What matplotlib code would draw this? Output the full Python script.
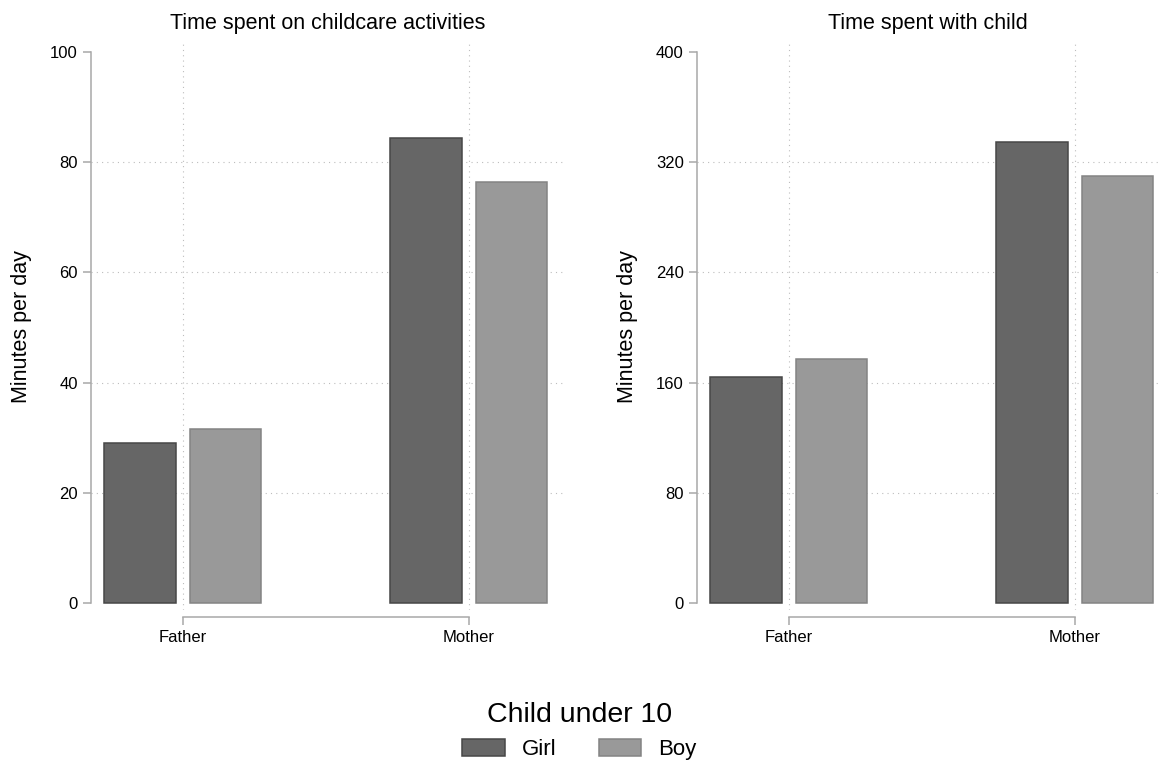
import matplotlib
matplotlib.use("Agg")
import matplotlib.pyplot as plt
from matplotlib.patches import Patch

plt.rcParams['font.family'] = ['Liberation Sans', 'DejaVu Sans']

# data
parents = ['Father', 'Mother']
groups = ['Girl', 'Boy']
childcare = {'Girl': [29.0, 84.4], 'Boy': [31.5, 76.4]}
with_child = {'Girl': [164.3, 334.9], 'Boy': [176.9, 310.2]}
childcare_ticks = [0, 20, 40, 60, 80, 100]
with_child_ticks = [0, 80, 160, 240, 320, 400]

fill = {'Girl': '#666666', 'Boy': '#999999'}
edge = {'Girl': '#474747', 'Boy': '#848484'}
offset = {'Girl': -0.15, 'Boy': 0.15}
axis_grey = '#a8a8a8'
grid_grey = '#bdbdbd'

W, H = 1159, 766
fig = plt.figure(figsize=(W / 100, H / 100), dpi=100)


def px_box(x0, x1, y0, y1):
    # pixel box -> figure fraction rect
    return [x0 / W, (H - y1) / H, (x1 - x0) / W, (y1 - y0) / H]


def draw_panel(ax, data, ticks, title, xlim, ylim):
    x = list(range(len(parents)))
    for g in groups:
        ax.bar([i + offset[g] for i in x], data[g], width=0.25,
               color=fill[g], edgecolor=edge[g], linewidth=1.1, zorder=3)

    for s in ['top', 'right']:
        ax.spines[s].set_visible(False)
    # set_position resets the ticks, so do it before styling them
    ax.spines['bottom'].set_position(('outward', 4.8))

    ax.set_xlim(*xlim)
    ax.set_ylim(*ylim)
    ax.set_xticks(x)
    ax.set_xticklabels(parents)
    ax.set_yticks(ticks)
    ax.set_yticklabels([str(t) for t in ticks])
    ax.set_title(title, fontsize=15.5, pad=10)

    ax.spines['left'].set_bounds(ticks[0], ticks[-1])
    ax.spines['bottom'].set_bounds(x[0], x[-1])
    for s in ['left', 'bottom']:
        ax.spines[s].set_color(axis_grey)
        ax.spines[s].set_linewidth(1.1)
    ax.tick_params(axis='both', color=axis_grey, width=1.1, length=6, pad=3.5,
                   labelsize=12)

    ax.set_axisbelow(True)
    ax.grid(True, linestyle=(0, (1, 3.75)), linewidth=0.8, color=grid_grey)
    ylines = ax.yaxis.get_gridlines()
    ylines[0].set_visible(False)
    ylines[-1].set_visible(False)


ax1 = fig.add_axes(px_box(91, 564, 42.7, 610))
draw_panel(ax1, childcare, childcare_ticks, 'Time spent on childcare activities',
           (-0.3206, 1.3332), (-1.27, 101.69))
ax2 = fig.add_axes(px_box(697, 1159, 42.7, 610))
draw_panel(ax2, with_child, with_child_ticks, 'Time spent with child',
           (-0.3206, 1.2948), (-5.08, 406.75))

fig.text(21.7 / W, 1 - 326.5 / H, 'Minutes per day', rotation=90,
         ha='center', va='center', fontsize=15.5)
fig.text(627.5 / W, 1 - 326.5 / H, 'Minutes per day', rotation=90,
         ha='center', va='center', fontsize=15.5)

handles = [Patch(facecolor=fill[g], edgecolor=edge[g], linewidth=1.1) for g in groups]
leg = fig.legend(handles, groups, loc='center', bbox_to_anchor=(0.5, 1 - 731 / H),
                 ncol=2, frameon=False, fontsize=16, title='Child under 10',
                 title_fontsize=20.5, handlelength=1.9, handleheight=0.77,
                 handletextpad=0.78, columnspacing=1.9, borderpad=0.2)

fig.savefig('out.png', dpi=100)
